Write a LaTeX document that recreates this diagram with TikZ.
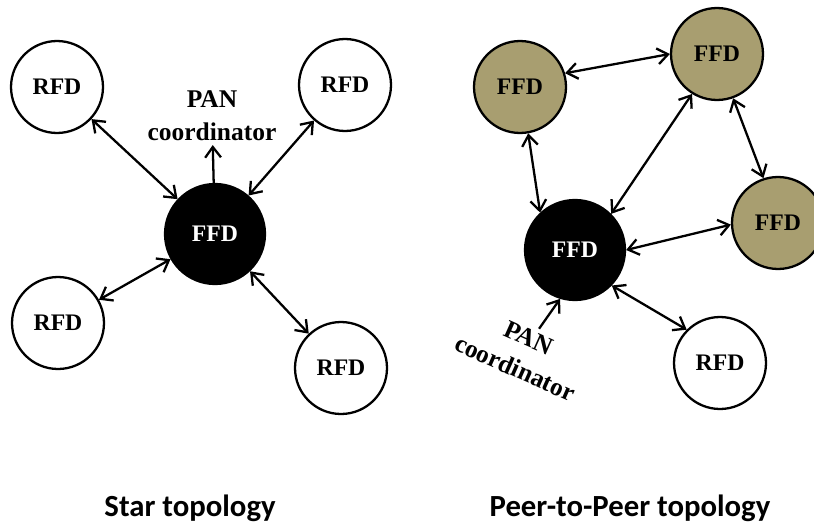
\documentclass[tikz,border=0pt]{standalone}
\usepackage{fontspec}
\setmainfont{Liberation Serif}
\newfontfamily\capfont{Carlito}
\usetikzlibrary{arrows.meta}
\definecolor{ffdtan}{RGB}{168,158,112}
\begin{document}
\begin{tikzpicture}[x=0.02cm, y=-0.02cm,
      rfd/.style={circle, draw, line width=1.3pt, minimum size=1.84cm, inner sep=0pt,
        font=\fontsize{13.5}{16}\selectfont\bfseries},
      ffd/.style={rfd, fill=ffdtan},
      coord/.style={circle, draw, fill=black, text=white, line width=1.3pt, minimum size=2cm,
        inner sep=0pt, font=\fontsize{13.5}{16}\selectfont\bfseries},
      lbl/.style={align=center, inner sep=2pt, font=\fontsize{14.5}{19}\selectfont\bfseries},
      toptitle/.style={anchor=base, font=\capfont\fontsize{17.5}{21}\selectfont\bfseries},
      link/.style={line width=1.3pt, {Straight Barb[length=6pt,width=9pt]}-{Straight Barb[length=6pt,width=9pt]}},
      up/.style={line width=1.3pt, -{Straight Barb[length=6pt,width=9pt]}}]
      \useasboundingbox (0,0) rectangle (814,527);

      % star topology
      \node[rfd] (r1) at (57,87) {RFD};
      \node[rfd] (r2) at (345,85) {RFD};
      \node[rfd] (r3) at (58,323) {RFD};
      \node[rfd] (r4) at (341,368) {RFD};
      \node[coord] (c1) at (215,234) {FFD};
      \node[lbl] (p1) at (212,116) {PAN\\coordinator};

      \draw[link] (r1) -- (c1);
      \draw[link] (r2) -- (c1);
      \draw[link] (r3) -- (c1);
      \draw[link] (r4) -- (c1);
      \draw[up] (c1) -- (p1);

      % peer-to-peer topology
      \node[ffd] (f1) at (520,87) {FFD};
      \node[ffd] (f2) at (717,54) {FFD};
      \node[ffd] (f3) at (778,223) {FFD};
      \node[coord] (c2) at (575,250) {FFD};
      \node[rfd] (r5) at (720,363) {RFD};
      \node[lbl, rotate=-24] (p2) at (522,353) {PAN\\coordinator};

      \draw[link] (f1.17) -- (f2.180);
      \draw[link] (f1.-80) -- (c2.133);
      \draw[link] (f2.-122) -- (c2.45);
      \draw[link] (f2.-70) -- (f3.108);
      \draw[link] (c2.0) -- (f3.182);
      \draw[link] (c2.-44) -- (r5.135);
      \draw[up] (p2) -- (c2.-107);

      \node[toptitle] (t1) at (190,516) {Star topology};
      \node[toptitle] (t2) at (630,516) {Peer-to-Peer topology};
    \end{tikzpicture}
\end{document}
